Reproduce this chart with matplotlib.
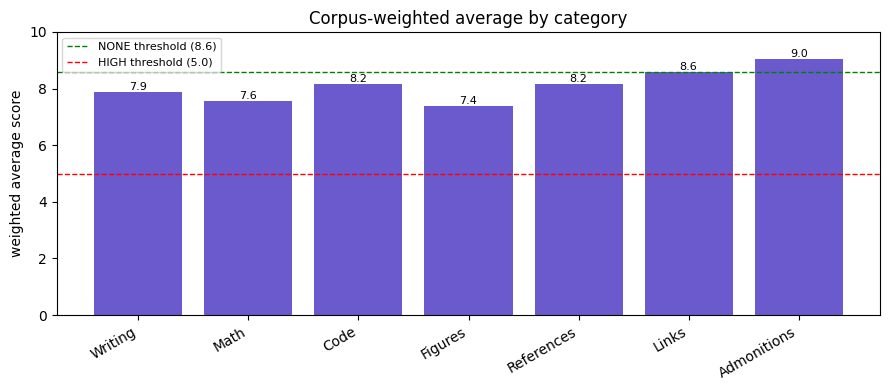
import matplotlib
matplotlib.use("Agg")
import matplotlib.pyplot as plt

categories = ["Writing", "Math", "Code", "Figures", "References", "Links", "Admonitions"]
scores = [7.88, 7.57, 8.16, 7.37, 8.16, 8.57, 9.04]
none_threshold = 8.6
high_threshold = 5.0

fig, ax = plt.subplots(figsize=(8.89, 3.9), dpi=100)
bars = ax.bar(categories, scores, color="slateblue")
for b, v in zip(bars, scores):
    ax.text(b.get_x() + b.get_width() / 2, v, f"{v:.1f}", ha="center", va="bottom", fontsize=8)
ax.axhline(none_threshold, color="green", linestyle="--", linewidth=1, label=f"NONE threshold ({none_threshold:.1f})")
ax.axhline(high_threshold, color="red", linestyle="--", linewidth=1, label=f"HIGH threshold ({high_threshold:.1f})")
ax.set_ylim(0, 10)
ax.set_ylabel("weighted average score")
ax.set_title("Corpus-weighted average by category")
ax.legend(fontsize=8, loc="upper left")
plt.setp(ax.get_xticklabels(), rotation=30, ha="right")
fig.subplots_adjust(left=0.064, right=0.990, top=0.918, bottom=0.192)
fig.savefig("out.png", dpi=100)
